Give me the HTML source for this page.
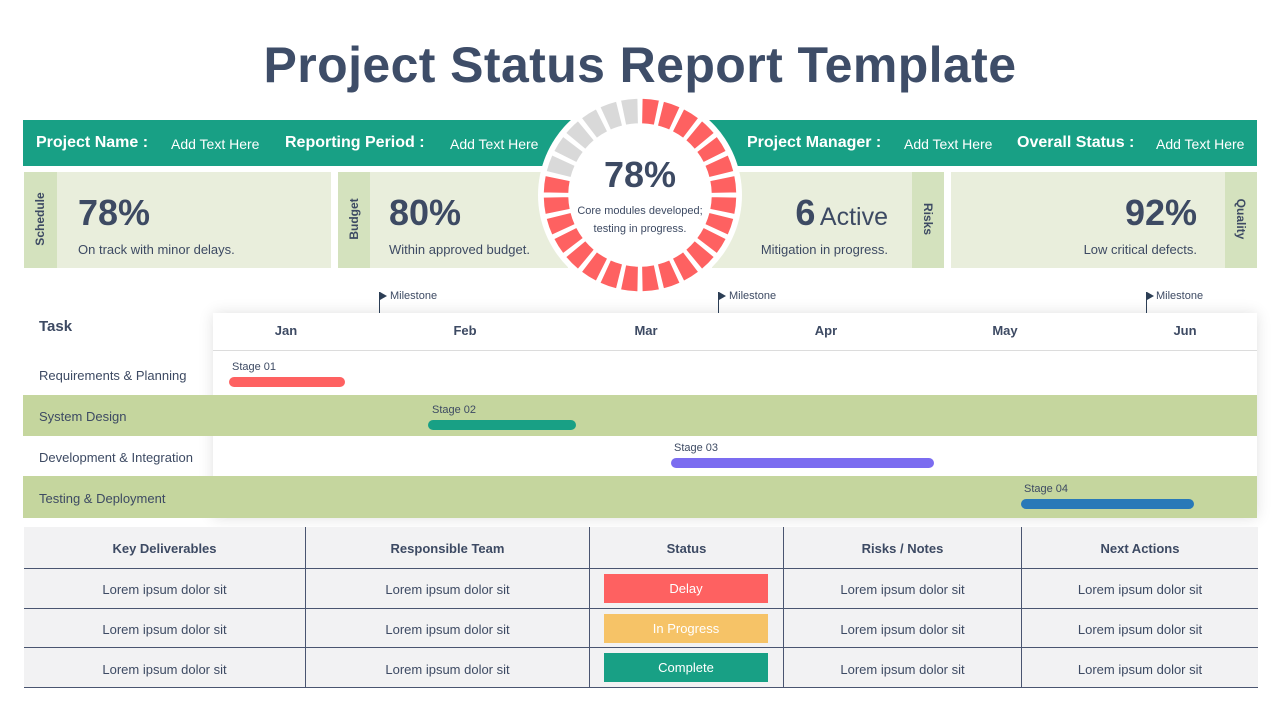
<!DOCTYPE html>
<html><head><meta charset="utf-8"><style>
*{margin:0;padding:0;box-sizing:border-box}
body{width:1280px;height:720px;background:#fff;position:relative;overflow:hidden;font-family:"Liberation Sans",sans-serif;color:#3d4a63}
.a{position:absolute}
.title{left:0;width:1280px;top:36px;text-align:center;font-size:50px;font-weight:bold;color:#3e4d68;letter-spacing:0.4px}
.bar{left:23px;top:120px;width:1234px;height:46px;background:#18a085}
.hl{color:#fff;font-weight:bold;font-size:16px;top:134px}
.ht{color:#fff;font-size:14px;top:136px}
.card{background:#e9eedc;top:172px;height:96px}
.strip{background:#d4e2be;top:172px;height:96px;width:33px}
.vl{font-size:12px;font-weight:bold;color:#3d4a63;white-space:nowrap;transform:rotate(-90deg);transform-origin:center}
.big{font-size:36px;font-weight:bold;color:#3d4a63}
.sm{font-size:13px;color:#3d4a63}
.mon{font-size:13px;font-weight:bold;top:323px;width:60px;text-align:center;margin-left:-30px}
.task{font-size:13px;left:39px}
.stg{font-size:11px}
.gb{height:10px;border-radius:5px}
.th{font-size:13px;font-weight:bold;text-align:center;top:541px}
.td{font-size:13px;text-align:center}
.badge{left:604px;width:164px;height:29px;color:#fff;font-size:13px;text-align:center;line-height:29px}
.ms{font-size:11px}
</style></head><body>
<div class="a title">Project Status Report Template</div>
<div class="a bar"></div>
<div class="a hl" style="left:36px">Project Name :</div>
<div class="a ht" style="left:171px">Add Text Here</div>
<div class="a hl" style="left:285px">Reporting Period :</div>
<div class="a ht" style="left:450px">Add Text Here</div>
<div class="a hl" style="left:747px">Project Manager :</div>
<div class="a ht" style="left:904px">Add Text Here</div>
<div class="a hl" style="left:1017px">Overall Status :</div>
<div class="a ht" style="left:1156px">Add Text Here</div>

<div class="a card" style="left:24px;width:307px"></div>
<div class="a strip" style="left:24px"></div>
<div class="a vl" style="left:10px;top:212px;width:60px;text-align:center">Schedule</div>
<div class="a big" style="left:78px;top:192px">78%</div>
<div class="a sm" style="left:78px;top:242px">On track with minor delays.</div>

<div class="a card" style="left:338px;width:230px"></div>
<div class="a strip" style="left:338px;width:32px"></div>
<div class="a vl" style="left:324px;top:212px;width:60px;text-align:center">Budget</div>
<div class="a big" style="left:389px;top:192px">80%</div>
<div class="a sm" style="left:389px;top:242px">Within approved budget.</div>

<div class="a card" style="left:712px;width:232px"></div>
<div class="a strip" style="left:912px;width:32px"></div>
<div class="a vl" style="left:898px;top:212px;width:60px;text-align:center;transform:rotate(90deg)">Risks</div>
<div class="a" style="left:700px;width:188px;text-align:right;top:192px"><span class="big">6</span> <span style="font-size:25px">Active</span></div>
<div class="a sm" style="left:700px;width:188px;text-align:right;top:242px">Mitigation in progress.</div>

<div class="a card" style="left:951px;width:306px"></div>
<div class="a strip" style="left:1225px;width:32px"></div>
<div class="a vl" style="left:1211px;top:212px;width:60px;text-align:center;transform:rotate(90deg)">Quality</div>
<div class="a big" style="left:1000px;width:197px;text-align:right;top:192px">92%</div>
<div class="a sm" style="left:1000px;width:197px;text-align:right;top:242px">Low critical defects.</div>

<svg class="a" style="left:538px;top:93px" width="204" height="204" viewBox="-102 -102 204 204" id="ring">
<circle r="102" fill="#fff"/>
</svg>
<div class="a" style="left:540px;width:200px;top:154px;text-align:center;font-size:36px;font-weight:bold;color:#3d4a63">78%</div>
<div class="a" style="left:540px;width:200px;top:202px;text-align:center;font-size:11px;line-height:18px;color:#3d4a63">Core modules developed;<br>testing in progress.</div>

<div class="a" style="left:213px;top:313px;width:1044px;height:205px;background:#fff;box-shadow:0 0 14px rgba(0,0,0,0.12)"></div>
<div class="a" style="left:213px;top:350px;width:1044px;height:1px;background:#dcdcdc"></div>
<div class="a" style="left:23px;top:395px;width:1234px;height:41px;background:#c5d69e"></div>
<div class="a" style="left:23px;top:476px;width:1234px;height:42px;background:#c5d69e"></div>
<div class="a" style="left:39px;top:318px;font-size:15px;font-weight:bold">Task</div>
<div class="a task" style="top:368px">Requirements &amp; Planning</div>
<div class="a task" style="top:409px">System Design</div>
<div class="a task" style="top:450px">Development &amp; Integration</div>
<div class="a task" style="top:491px">Testing &amp; Deployment</div>
<div class="a mon" style="left:286px">Jan</div>
<div class="a mon" style="left:465px">Feb</div>
<div class="a mon" style="left:646px">Mar</div>
<div class="a mon" style="left:826px">Apr</div>
<div class="a mon" style="left:1005px">May</div>
<div class="a mon" style="left:1185px">Jun</div>

<div class="a" style="left:379px;top:292px;width:1px;height:21px;background:#2c3e55"></div>
<div class="a" style="left:380px;top:292px;width:0;height:0;border-left:7px solid #2c3e55;border-top:4px solid transparent;border-bottom:4px solid transparent"></div>
<div class="a ms" style="left:390px;top:290px">Milestone</div>
<div class="a" style="left:718px;top:292px;width:1px;height:21px;background:#2c3e55"></div>
<div class="a" style="left:719px;top:292px;width:0;height:0;border-left:7px solid #2c3e55;border-top:4px solid transparent;border-bottom:4px solid transparent"></div>
<div class="a ms" style="left:729px;top:290px">Milestone</div>
<div class="a" style="left:1146px;top:292px;width:1px;height:21px;background:#2c3e55"></div>
<div class="a" style="left:1147px;top:292px;width:0;height:0;border-left:7px solid #2c3e55;border-top:4px solid transparent;border-bottom:4px solid transparent"></div>
<div class="a ms" style="left:1156px;top:290px">Milestone</div>

<div class="a stg" style="left:232px;top:361px">Stage 01</div>
<div class="a gb" style="left:229px;top:377px;width:116px;background:#fe6161"></div>
<div class="a stg" style="left:432px;top:404px">Stage 02</div>
<div class="a gb" style="left:428px;top:420px;width:148px;background:#18a085"></div>
<div class="a stg" style="left:674px;top:442px">Stage 03</div>
<div class="a gb" style="left:671px;top:458px;width:263px;background:#7b6cf0"></div>
<div class="a stg" style="left:1024px;top:483px">Stage 04</div>
<div class="a gb" style="left:1021px;top:499px;width:173px;background:#2879b8"></div>

<div class="a" style="left:24px;top:527px;width:1234px;height:161px;background:#f2f2f3;border-bottom:1px solid #4a5570"></div>
<div class="a" style="left:24px;top:568px;width:1234px;height:1px;background:#4a5570"></div>
<div class="a" style="left:24px;top:608px;width:1234px;height:1px;background:#4a5570"></div>
<div class="a" style="left:24px;top:647px;width:1234px;height:1px;background:#4a5570"></div>
<div class="a" style="left:305px;top:527px;width:1px;height:161px;background:#4a5570"></div>
<div class="a" style="left:589px;top:527px;width:1px;height:161px;background:#4a5570"></div>
<div class="a" style="left:783px;top:527px;width:1px;height:161px;background:#4a5570"></div>
<div class="a" style="left:1021px;top:527px;width:1px;height:161px;background:#4a5570"></div>
<div class="a th" style="left:24px;width:281px">Key Deliverables</div>
<div class="a th" style="left:306px;width:283px">Responsible Team</div>
<div class="a th" style="left:590px;width:193px">Status</div>
<div class="a th" style="left:784px;width:237px">Risks / Notes</div>
<div class="a th" style="left:1022px;width:236px">Next Actions</div>
<div id="rows"></div>
<div class="a badge" style="top:574px;background:#fe6161">Delay</div>
<div class="a badge" style="top:614px;background:#f6c367">In Progress</div>
<div class="a badge" style="top:653px;background:#18a085">Complete</div>
<script>
var s=document.getElementById('ring'),n=28,R=97,r=71,gap=2.2;
for(var i=0;i<n;i++){var a0=(-90+i*360/n+gap/2)*Math.PI/180,a1=(-90+(i+1)*360/n-gap/2)*Math.PI/180;
var p='M'+R*Math.cos(a0)+' '+R*Math.sin(a0)+'A'+R+' '+R+' 0 0 1 '+R*Math.cos(a1)+' '+R*Math.sin(a1)+'L'+r*Math.cos(a1)+' '+r*Math.sin(a1)+'A'+r+' '+r+' 0 0 0 '+r*Math.cos(a0)+' '+r*Math.sin(a0)+'Z';
var e=document.createElementNS('http://www.w3.org/2000/svg','path');e.setAttribute('d',p);e.setAttribute('fill',i<22?'#fe6161':'#d9d9d9');e.setAttribute('stroke','#fff');e.setAttribute('stroke-width','1.5');s.appendChild(e);}
var cols=[[24,281],[306,283],[784,237],[1022,236]],tops=[582,622,662],h='';
tops.forEach(function(t){cols.forEach(function(c){h+='<div class="a td" style="left:'+c[0]+'px;width:'+c[1]+'px;top:'+t+'px">Lorem ipsum dolor sit</div>';});});
document.getElementById('rows').innerHTML=h;
</script>
</body></html>
